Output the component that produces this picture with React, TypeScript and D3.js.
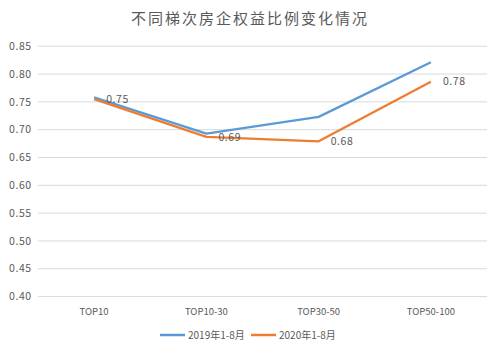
import * as d3 from "d3";

const categories = ["TOP10", "TOP10-30", "TOP30-50", "TOP50-100"];
const series2019 = [0.758, 0.693, 0.723, 0.821];
const series2020 = [0.755, 0.687, 0.679, 0.786];
const labels2020 = ["0.75", "0.69", "0.68", "0.78"];
const yTicks = [0.4, 0.45, 0.5, 0.55, 0.6, 0.65, 0.7, 0.75, 0.8, 0.85];
const seriesNames = ["2019年1-8月", "2020年1-8月"];

const W = 500;
const H = 353;
const left = 38;
const right = 487;
const top = 46.2;
const bottom = 296.6;
const font = "'Noto Sans CJK SC', 'Noto Sans', sans-serif";
const textColor = "#595959";
const colors = ["#5B9BD5", "#ED7D31"];

export default function App() {
  const x = d3.scaleBand().domain(categories).range([left, right]);
  const y = d3.scaleLinear().domain([0.4, 0.85]).range([bottom, top]);
  const cx = (c: string) => (x(c) ?? 0) + x.bandwidth() / 2;

  const line = d3
    .line<number>()
    .x((_, i) => cx(categories[i]))
    .y((d) => y(d));

  return (
    <svg
      width={W}
      height={H}
      style={{ position: "absolute", left: 0, top: 0, background: "#fff" }}
      fontFamily={font}
    >
      <text x={250} y={24} textAnchor="middle" fontSize={15} fill={textColor} letterSpacing={2}>
        不同梯次房企权益比例变化情况
      </text>
      {yTicks.map((t) => (
        <g key={t}>
          <line x1={left} x2={right} y1={y(t)} y2={y(t)} stroke="#d9d9d9" strokeWidth={1} />
          <text x={9} y={y(t)} dy="0.35em" fontSize={10.5} fill={textColor} letterSpacing={0.6}>
            {t.toFixed(2)}
          </text>
        </g>
      ))}
      {categories.map((c) => (
        <text key={c} x={cx(c)} y={315} textAnchor="middle" fontSize={9.5} fill={textColor}>
          {c}
        </text>
      ))}
      <path d={line(series2019) ?? ""} fill="none" stroke={colors[0]} strokeWidth={2.3} strokeLinejoin="round" />
      <path d={line(series2020) ?? ""} fill="none" stroke={colors[1]} strokeWidth={2.3} strokeLinejoin="round" />
      {series2020.map((v, i) => (
        <text
          key={i}
          x={cx(categories[i]) + 12}
          y={y(v)}
          dy="0.35em"
          fontSize={10.5}
          fill={textColor}
          letterSpacing={0.6}
        >
          {labels2020[i]}
        </text>
      ))}
      {seriesNames.map((n, i) => (
        <g key={n} transform={`translate(${160 + i * 91},335)`}>
          <line x1={0} x2={25} y1={0} y2={0} stroke={colors[i]} strokeWidth={2.5} />
          <text x={28} y={0} dy="0.35em" fontSize={10} fill={textColor}>
            {n}
          </text>
        </g>
      ))}
    </svg>
  );
}
